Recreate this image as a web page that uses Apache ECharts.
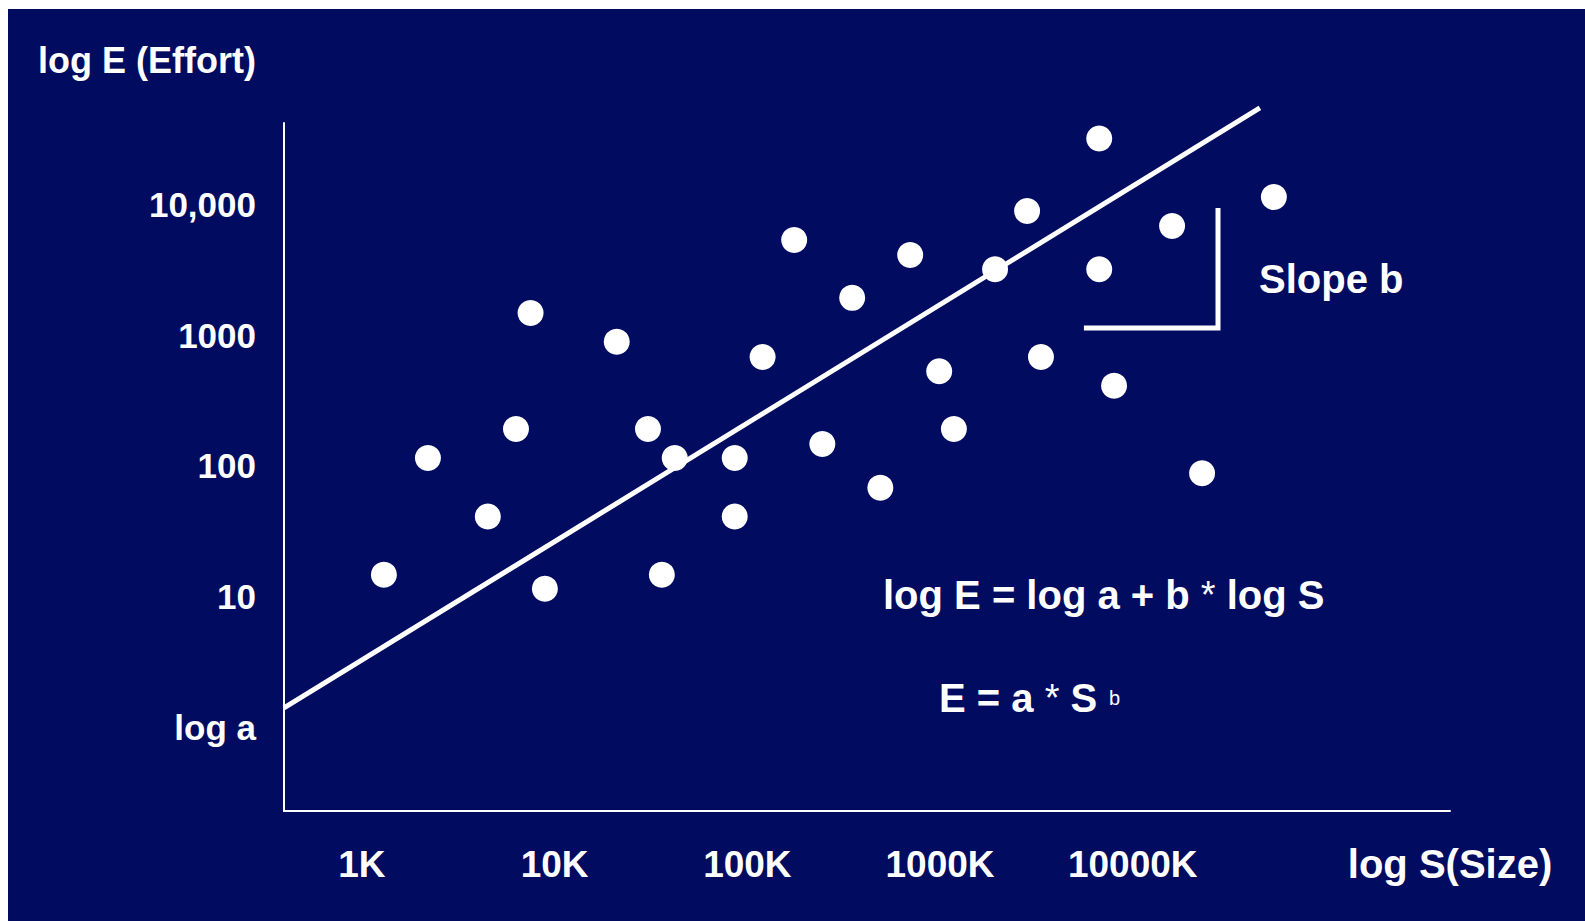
<!DOCTYPE html>
<html>
<head>
<meta charset="utf-8">
<script src="https://cdn.jsdelivr.net/npm/echarts@6/dist/echarts.min.js"></script>
<style>
  html, body { margin: 0; padding: 0; background: #ffffff; width: 1585px; height: 921px; overflow: hidden; }
  #chart { position: absolute; left: 8px; top: 9px; width: 1577px; height: 912px; background: #010C60; }
</style>
</head>
<body>
<div id="chart"></div>
<script>
// ---- data ----
const sizeValues   = [1300, 2200, 4500, 6300, 7500, 8900, 21000, 30500, 36000, 42000,
                      86000, 86000, 120000, 175000, 245000, 350000, 490000, 700000, 990000, 1180000,
                      1930000, 2830000, 3340000, 6700000, 6700000, 8000000, 16000000, 22900000, 54000000];
const effortValues = [14.7, 115, 41, 192, 1480, 11.5, 890, 192, 14.7, 115,
                      115, 41, 680, 5350, 147, 1930, 68, 4100, 530, 192,
                      3200, 8900, 680, 32000, 3200, 410, 6850, 88, 11400];

// fitted line E = a * S^b (endpoints)
const fitSize   = [394, 45700000];
const fitEffort = [1.41, 54700];

// slope bracket
const slopeSize   = [5580000, 27700000, 27700000];
const slopeEffort = [1136, 1136, 9400];

// tick labels
const xTickValues = [1e3, 1e4, 1e5, 1e6, 1e7];
const xTickLabels = ['1K', '10K', '100K', '1000K', '10000K'];
const yTickValues = [1, 10, 100, 1000, 10000];
const yTickLabels = ['log a', '10', '100', '1000', '10,000'];

const xAxisRange = [394, 4.43e8];
const yAxisRange = [0.2296, 41980];

const xAxisTitle = 'log S(Size)';
const yAxisTitle = 'log E (Effort)';
const slopeText = 'Slope b';

// ---- chart ----
function labelLookup(values, labels) {
  return function (v) {
    const e = Math.log10(v);
    for (let i = 0; i < values.length; i++) {
      if (Math.abs(e - Math.log10(values[i])) < 1e-6) return labels[i];
    }
    return '';
  };
}
function pairs(xs, ys) { return xs.map((x, i) => [x, ys[i]]); }

const FONT = "'Liberation Sans', Arial, Helvetica, sans-serif";
const WHITE = '#ffffff';

const formulaRich = {
  m: { fontFamily: FONT, fontWeight: 'bold', fontSize: 40, fill: WHITE, color: WHITE, lineHeight: 44 },
  a: { fontFamily: FONT, fontWeight: 'normal', fontSize: 38, fill: WHITE, color: WHITE, lineHeight: 44 }
};

const chart = echarts.init(document.getElementById('chart'), null, { renderer: 'svg' });
chart.setOption({
  animation: false,
  backgroundColor: '#010C60',
  grid: { left: 276, top: 114, right: 135, bottom: 110, containLabel: false },
  xAxis: {
    type: 'log',
    min: xAxisRange[0],
    max: xAxisRange[1],
    axisLine: { show: true, onZero: false, lineStyle: { color: WHITE, width: 2 } },
    axisTick: { show: false },
    splitLine: { show: false },
    axisLabel: {
      show: true, interval: 0, hideOverlap: false,
      color: WHITE, fontFamily: FONT, fontWeight: 'bold', fontSize: 37,
      margin: 53, verticalAlign: 'middle',
      formatter: labelLookup(xTickValues, xTickLabels)
    }
  },
  yAxis: {
    type: 'log',
    min: yAxisRange[0],
    max: yAxisRange[1],
    name: yAxisTitle,
    nameLocation: 'end',
    nameGap: 63,
    nameTextStyle: {
      color: WHITE, fontFamily: FONT, fontWeight: 'bold', fontSize: 36,
      align: 'right', verticalAlign: 'middle', padding: [0, 28, 0, 0]
    },
    axisLine: { show: true, onZero: false, lineStyle: { color: WHITE, width: 2 } },
    axisTick: { show: false },
    splitLine: { show: false },
    axisLabel: {
      show: true, interval: 0, hideOverlap: false,
      color: WHITE, fontFamily: FONT, fontWeight: 'bold', fontSize: 35,
      margin: 28,
      formatter: labelLookup(yTickValues, yTickLabels)
    }
  },
  series: [
    {
      type: 'line',
      data: pairs(fitSize, fitEffort),
      symbol: 'none',
      clip: false,
      lineStyle: { color: WHITE, width: 5 },
      silent: true,
      z: 2
    },
    {
      type: 'line',
      data: pairs(slopeSize, slopeEffort),
      symbol: 'none',
      clip: false,
      lineStyle: { color: WHITE, width: 5, cap: 'butt', join: 'miter' },
      silent: true,
      z: 2
    },
    {
      type: 'scatter',
      data: pairs(sizeValues, effortValues),
      symbol: 'circle',
      symbolSize: 26,
      itemStyle: { color: WHITE, opacity: 1 },
      z: 3
    }
  ],
  graphic: [
    {
      type: 'text', x: 1442, y: 855,
      style: { text: xAxisTitle, fill: WHITE, font: 'bold 40px ' + FONT, textAlign: 'center', textVerticalAlign: 'middle' }
    },
    {
      type: 'text', left: 1251, top: 250,
      style: { text: slopeText, fill: WHITE, font: 'bold 40px ' + FONT }
    },
    {
      type: 'text', left: 875, top: 566,
      style: { text: '{m|log E = log a + b }{a|*}{m| log S}', rich: formulaRich, fill: WHITE }
    },
    {
      type: 'text', left: 931, top: 669,
      style: { text: '{m|E = a }{a|*}{m| S}', rich: formulaRich, fill: WHITE }
    },
    {
      type: 'text', left: 1101, top: 679,
      style: { text: 'b', fill: WHITE, font: 'normal 20px ' + FONT }
    }
  ]
});
</script>
</body>
</html>
